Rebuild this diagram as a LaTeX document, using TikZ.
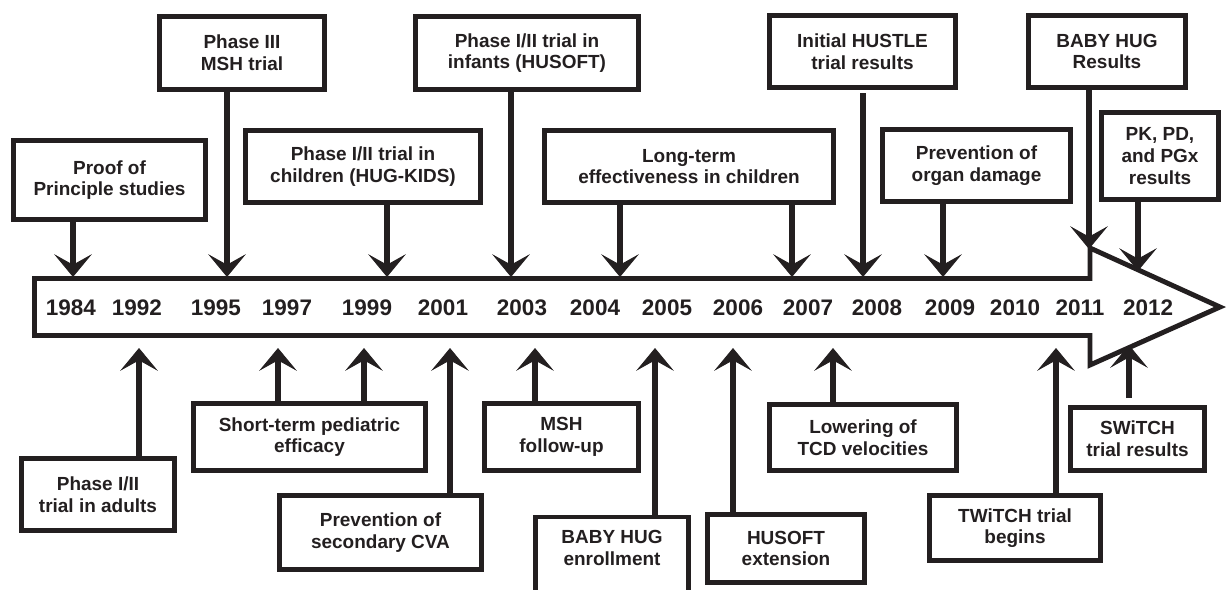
\documentclass[tikz,border=0pt]{standalone}
\usepackage{fontspec}
\setmainfont{Liberation Sans}
\usetikzlibrary{arrows.meta}
\definecolor{ink}{RGB}{35,31,32}

\begin{document}
\begin{tikzpicture}[x=0.02cm, y=-0.02cm, line join=miter,
  every node/.style={font=\bfseries\fontsize{10.8pt}{12.3pt}\selectfont, text=ink},
  box/.style={draw=ink, line width=2.8pt, align=center, inner sep=2pt},
  year/.style={font=\bfseries\fontsize{12.8pt}{14pt}\selectfont},
  arr/.style={color=ink, line width=3.8pt, -{Stealth[length=13pt, width=21.5pt, inset=6pt, line width=0.5pt]}}]
\useasboundingbox (0,0) rectangle (1227,589);
\clip (0,0) rectangle (1227,589);

\draw[draw=ink, line width=2.8pt] (34.5,278.5) -- (1090,278.5) -- (1090,248) -- (1220,307) -- (1090,365) -- (1090,335.5) -- (34.5,335.5) -- cycle;
\coordinate (top) at (0,277);
\coordinate (bot) at (0,348);

\foreach \yr/\x in {1984/71, 1992/137, 1995/216, 1997/287, 1999/367, 2001/443, 2003/522, 2004/595, 2005/667, 2006/738, 2007/808, 2008/877, 2009/950, 2010/1015, 2011/1080, 2012/1148}
  \node[year] (y\yr) at (\x,308) {\yr};

\node[box, minimum width=3.84cm, minimum height=1.58cm] (proof) at (109.5,180) {Proof of\\Principle studies};
\node[box, minimum width=3.30cm, minimum height=1.46cm] (msh3) at (242,53) {Phase III\\MSH trial};
\node[box, minimum width=4.70cm, minimum height=1.44cm] (hugkids) at (363,166.5) {Phase I/II trial in\\children (HUG-KIDS)};
\node[box, minimum width=4.46cm, minimum height=1.46cm] (husoft) at (527,53) {Phase I/II trial in\\infants (HUSOFT)};
\node[box, minimum width=5.78cm, minimum height=1.44cm] (longterm) at (689,166.5) {Long-term\\effectiveness in children};
\node[box, minimum width=3.72cm, minimum height=1.44cm] (hustle) at (862.5,51.5) {Initial HUSTLE\\trial results};
\node[box, minimum width=3.76cm, minimum height=1.44cm] (organ) at (976.5,165.5) {Prevention of\\organ damage};
\node[box, minimum width=3.14cm, minimum height=1.44cm] (bhres) at (1107,51.5) {BABY HUG\\Results};
\node[box, minimum width=2.34cm, minimum height=1.74cm] (pkpd) at (1160,156) {PK, PD,\\and PGx\\results};

\node[box, minimum width=3.06cm, minimum height=1.44cm] (adults) at (98,494.5) {Phase I/II\\trial in adults};
\node[box, minimum width=4.64cm, minimum height=1.34cm] (short) at (309.5,437) {Short-term pediatric\\efficacy};
\node[box, minimum width=4.04cm, minimum height=1.48cm] (cva) at (380.5,532.5) {Prevention of\\secondary CVA};
\node[box, minimum width=3.08cm, minimum height=1.34cm] (mshfu) at (561.5,437) {MSH\\follow-up};
\node[box, minimum width=3.06cm, inner ysep=7.5pt, text depth=3cm, anchor=north] (bhenr) at (612,514.5) {BABY HUG\\enrollment};
\node[box, minimum width=3.14cm, minimum height=1.36cm] (hsext) at (786,548.5) {HUSOFT\\extension};
\node[box, minimum width=3.74cm, minimum height=1.32cm] (tcd) at (863,437.5) {Lowering of\\TCD velocities};
\node[box, minimum width=3.42cm, minimum height=1.30cm] (twitch) at (1015,528) {TWiTCH trial\\begins};
\node[box, minimum width=2.68cm, minimum height=1.26cm] (switch) at (1137.5,439) {SWiTCH\\trial results};

\foreach \n/\x in {proof/73, msh3/227, hugkids/387, husoft/511, longterm/620, longterm/792, organ/943}
  \draw[arr] (\n.south -| \x,0) -- (\x,0 |- top);
\draw[arr, shorten <=2pt] (hustle.south -| 863,0) -- (863,0 |- top);
\draw[arr] (bhres.south -| 1089,0) -- (1089,249);
\draw[arr] (pkpd.south -| 1138,0) -- (1138,271);

\foreach \n/\x in {adults/139, short/278, short/364, cva/450, mshfu/535, bhenr/655, hsext/733, tcd/833, twitch/1056}
  \draw[arr] (\n.north -| \x,0) -- (\x,0 |- bot);
\draw[arr, shorten <=4pt] (switch.north -| 1129,0) -- (1129,345);
\end{tikzpicture}
\end{document}
